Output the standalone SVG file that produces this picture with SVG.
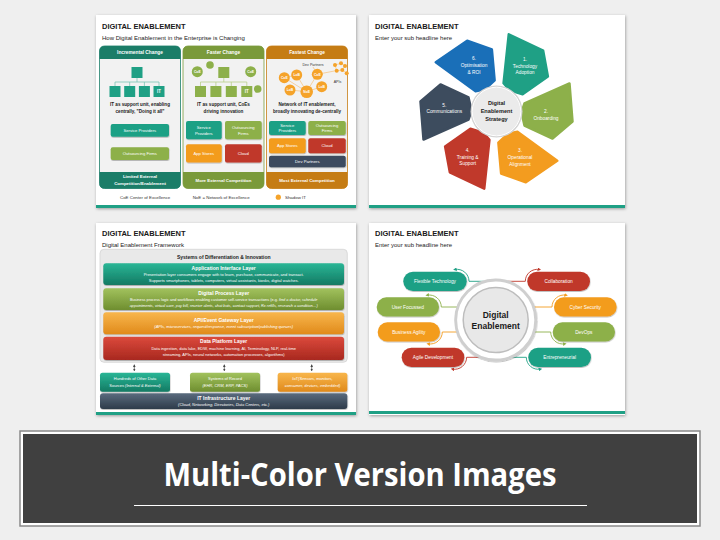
<svg xmlns="http://www.w3.org/2000/svg" width="720" height="540" viewBox="0 0 720 540">
<defs>
<style>
text{font-family:"Liberation Sans",Arial,sans-serif}
.t{font-size:7.5px;font-weight:bold;fill:#1a1a1a}
.st{font-size:6px;fill:#222}
.c{text-anchor:middle}
.w{fill:#fff}
.b{font-weight:bold}
.hd{font-size:4.8px;font-weight:bold;fill:#fff;text-anchor:middle}
.bt{font-size:4.2px;fill:#fff;text-anchor:middle}
.bd{font-size:4.6px;font-weight:bold;fill:#222;text-anchor:middle}
.lg{font-size:4.4px;fill:#333}
.nd{font-size:3.4px;fill:#fff;text-anchor:middle;font-weight:bold}
.pt{font-size:4.8px;fill:#fff;text-anchor:middle}
.lt{font-size:5px;font-weight:bold;fill:#fff;text-anchor:middle}
.ld{font-size:4px;fill:#fff;text-anchor:middle}
.pl{font-size:4.8px;fill:#fff;text-anchor:middle}
.card{fill:#fff;filter:url(#sh)}
.bar{fill:#1fa085}
.cn{fill:none;stroke-width:0.9}
</style>
<filter id="sh" x="-5%" y="-5%" width="110%" height="112%"><feDropShadow dx="0.6" dy="1" stdDeviation="1.4" flood-color="#000" flood-opacity="0.35"/></filter>
<filter id="sh2" x="-10%" y="-20%" width="120%" height="150%"><feDropShadow dx="0.4" dy="0.8" stdDeviation="0.6" flood-color="#000" flood-opacity="0.3"/></filter>
<linearGradient id="gT" x1="0" y1="0" x2="0" y2="1"><stop offset="0" stop-color="#2ab696"/><stop offset="1" stop-color="#137a63"/></linearGradient>
<linearGradient id="gG" x1="0" y1="0" x2="0" y2="1"><stop offset="0" stop-color="#a2c25e"/><stop offset="1" stop-color="#6e8e2f"/></linearGradient>
<linearGradient id="gO" x1="0" y1="0" x2="0" y2="1"><stop offset="0" stop-color="#f8b64c"/><stop offset="1" stop-color="#e08a1b"/></linearGradient>
<linearGradient id="gR" x1="0" y1="0" x2="0" y2="1"><stop offset="0" stop-color="#dc4a3c"/><stop offset="1" stop-color="#a8281f"/></linearGradient>
<linearGradient id="gS" x1="0" y1="0" x2="0" y2="1"><stop offset="0" stop-color="#5a6b7e"/><stop offset="1" stop-color="#2e3b4a"/></linearGradient>
<marker id="aT" viewBox="0 0 6 6" refX="3" refY="3" markerUnits="userSpaceOnUse" markerWidth="3.6" markerHeight="3.6" orient="auto"><path d="M0,0 L6,3 L0,6 Z" fill="#1fa085"/></marker>
<marker id="aG" viewBox="0 0 6 6" refX="3" refY="3" markerUnits="userSpaceOnUse" markerWidth="3.6" markerHeight="3.6" orient="auto"><path d="M0,0 L6,3 L0,6 Z" fill="#8db04a"/></marker>
<marker id="aO" viewBox="0 0 6 6" refX="3" refY="3" markerUnits="userSpaceOnUse" markerWidth="3.6" markerHeight="3.6" orient="auto"><path d="M0,0 L6,3 L0,6 Z" fill="#f39c1f"/></marker>
<marker id="aR" viewBox="0 0 6 6" refX="3" refY="3" markerUnits="userSpaceOnUse" markerWidth="3.6" markerHeight="3.6" orient="auto"><path d="M0,0 L6,3 L0,6 Z" fill="#c0392b"/></marker>
<marker id="aK" viewBox="0 0 6 6" refX="5" refY="3" markerUnits="userSpaceOnUse" markerWidth="2.6" markerHeight="2.6" orient="auto-start-reverse"><path d="M0,0 L6,3 L0,6 Z" fill="#444"/></marker>
<path id="petal" d="M25,1 L28,-8 L73,-28 L76,10 L56,27 L28,14 Z" stroke-linejoin="round" stroke-width="2.5"/>
</defs>

<rect width="720" height="540" fill="#efefef"/>

<!-- ============ SLIDE 1 ============ -->
<g id="slide1">
<rect class="card" x="96" y="15" width="260" height="193"/>
<rect class="bar" x="96" y="205" width="260" height="3"/>
<text class="t" x="102" y="28.5">DIGITAL ENABLEMENT</text>
<text class="st" x="102" y="40">How Digital Enablement in the Enterprise is Changing</text>

<g id="col-incremental">
<rect x="99.5" y="46" width="81" height="142.5" rx="5" fill="#f2f2f2" stroke="#1b7d68" stroke-width="0.8"/>
<path d="M99.5,59 V51 Q99.5,46 104.5,46 H175.5 Q180.5,46 180.5,51 V59 Z" fill="#1b7d68"/>
<path d="M99.5,172 H180.5 V183.5 Q180.5,188.5 175.5,188.5 H104.5 Q99.5,188.5 99.5,183.5 Z" fill="#1b7d68"/>
<text class="hd" x="140" y="54.3">Incremental Change</text>
<text class="hd" x="140" y="178.3" style="font-size:4.4px">Limited External</text>
<text class="hd" x="140" y="184.6" style="font-size:4.4px">Competition/Enablement</text>
<g fill="none" stroke="#7cc5b5" stroke-width="0.8">
<path d="M137,78 V82 M115,82 H159 M115,82 V86 M129.7,82 V86 M144.4,82 V86 M159,82 V86"/>
</g>
<rect x="131.5" y="67" width="11" height="11" fill="#1fa085"/>
<rect x="109.5" y="86" width="11" height="11" fill="#1fa085"/>
<rect x="124.2" y="86" width="11" height="11" fill="#1fa085"/>
<rect x="138.9" y="86" width="11" height="11" fill="#1fa085"/>
<rect x="153.5" y="86" width="11" height="11" fill="#1fa085"/>
<text class="nd" x="159" y="93" style="font-size:4.5px">IT</text>
<text class="bd" x="140" y="106">IT as support unit, enabling</text>
<text class="bd" x="140" y="112.5">centrally, "Doing it all"</text>
<rect x="110.7" y="124" width="58.3" height="12.7" rx="2" fill="#1fa085" filter="url(#sh2)"/>
<text class="bt" x="139.8" y="131.8">Service Providers</text>
<rect x="110.7" y="147.3" width="58.3" height="12.7" rx="2" fill="#8db04a" filter="url(#sh2)"/>
<text class="bt" x="139.8" y="155.1">Outsourcing Firms</text>
</g>

<g id="col-faster">
<rect x="183" y="46" width="81" height="142.5" rx="5" fill="#f2f2f2" stroke="#7a9a3a" stroke-width="0.8"/>
<path d="M183,59 V51 Q183,46 188,46 H259 Q264,46 264,51 V59 Z" fill="#7a9a3a"/>
<path d="M183,172 H264 V183.5 Q264,188.5 259,188.5 H188 Q183,188.5 183,183.5 Z" fill="#7a9a3a"/>
<text class="hd" x="223.5" y="54.3">Faster Change</text>
<text class="hd" x="223.5" y="182" style="font-size:4.4px">More External Competition</text>
<g fill="none" stroke="#b9cf8a" stroke-width="0.8">
<path d="M223.8,78 V82 M200.5,82 H246.8 M200.5,82 V86 M215.9,82 V86 M231.3,82 V86 M246.8,82 V86"/>
</g>
<rect x="218.3" y="67" width="11" height="11" fill="#8db04a"/>
<rect x="195" y="86" width="11" height="11" fill="#8db04a"/>
<rect x="210.4" y="86" width="11" height="11" fill="#8db04a"/>
<rect x="225.8" y="86" width="11" height="11" fill="#8db04a"/>
<rect x="241.3" y="86" width="11" height="11" fill="#8db04a"/>
<text class="nd" x="246.8" y="93" style="font-size:4.5px">IT</text>
<circle cx="197.3" cy="71.7" r="5.5" fill="#8db04a"/>
<text class="nd" x="197.3" y="73">CoE</text>
<circle cx="210" cy="65" r="3.8" fill="#8db04a"/>
<circle cx="250.7" cy="71.7" r="5.5" fill="#8db04a"/>
<text class="nd" x="250.7" y="73">CoE</text>
<circle cx="257.7" cy="89" r="3.8" fill="#8db04a"/>
<text class="bd" x="223.5" y="106">IT as support unit, CoEs</text>
<text class="bd" x="223.5" y="112.5">driving innovation</text>
<rect x="186" y="121" width="35.7" height="18.3" rx="2" fill="#1fa085" filter="url(#sh2)"/>
<text class="bt" x="203.8" y="129">Service</text>
<text class="bt" x="203.8" y="134.5">Providers</text>
<rect x="225" y="121" width="36.7" height="18.3" rx="2" fill="#8db04a" filter="url(#sh2)"/>
<text class="bt" x="243.3" y="129">Outsourcing</text>
<text class="bt" x="243.3" y="134.5">Firms</text>
<rect x="186" y="144.3" width="35.7" height="18.3" rx="2" fill="#f39c1f" filter="url(#sh2)"/>
<text class="bt" x="203.8" y="155">App Stores</text>
<rect x="225" y="144.3" width="36.7" height="18.3" rx="2" fill="#c0392b" filter="url(#sh2)"/>
<text class="bt" x="243.3" y="155">Cloud</text>
</g>

<g id="col-fastest">
<rect x="266.5" y="46" width="81" height="142.5" rx="5" fill="#f2f2f2" stroke="#c57c14" stroke-width="0.8"/>
<path d="M266.5,59 V51 Q266.5,46 271.5,46 H342.5 Q347.5,46 347.5,51 V59 Z" fill="#c57c14"/>
<path d="M266.5,172 H347.5 V183.5 Q347.5,188.5 342.5,188.5 H271.5 Q266.5,188.5 266.5,183.5 Z" fill="#c57c14"/>
<text class="hd" x="307" y="54.3">Fastest Change</text>
<text class="hd" x="307" y="182" style="font-size:4.4px">Most External Competition</text>
<g fill="none" stroke="#f7c27a" stroke-width="0.7">
<path d="M306.7,91.7 L284.3,77.7 M306.7,91.7 L296.7,75 M306.7,91.7 L290,90 M306.7,91.7 L317.3,74.3 M306.7,91.7 L321.7,86.7 M317.3,74.3 L337,70.5 M317.3,74.3 L313,67 M284.3,77.7 L296.7,75"/>
<path d="M335,65 L341,63.3 L345,66 L342.3,70 L336.7,70.7 Z M342.3,70 L346.7,73.3"/>
</g>
<g fill="#f5a32a">
<circle cx="284.3" cy="77.7" r="5.5"/><circle cx="296.7" cy="75" r="5.5"/><circle cx="290" cy="90" r="5.5"/>
<circle cx="306.7" cy="91.7" r="6.3"/><circle cx="317.3" cy="74.3" r="5.5"/><circle cx="321.7" cy="86.7" r="5.5"/>
<circle cx="335" cy="65" r="2"/><circle cx="341" cy="63.3" r="2"/><circle cx="345" cy="66" r="2"/>
<circle cx="336.7" cy="70.7" r="2"/><circle cx="342.3" cy="70" r="2"/><circle cx="346.7" cy="73.3" r="2"/>
</g>
<text class="nd" x="284.3" y="79">CoE</text>
<text class="nd" x="296.7" y="76.3">LoB</text>
<text class="nd" x="290" y="91.3">LoB</text>
<text class="nd" x="306.7" y="93">NoE</text>
<text class="nd" x="317.3" y="75.6">CoE</text>
<text class="nd" x="321.7" y="88">LoB</text>
<text x="313" y="65.5" style="font-size:3.6px;fill:#333" class="c">Dev Partners</text>
<text x="337.5" y="83" style="font-size:3.6px;fill:#333" class="c">APIs</text>
<text class="bd" x="307" y="106">Network of IT enablement,</text>
<text class="bd" x="307" y="112.5">broadly innovating de-centrally</text>
<rect x="269" y="121" width="36.7" height="14" rx="2" fill="#1fa085" filter="url(#sh2)"/>
<text class="bt" x="287.3" y="127">Service</text>
<text class="bt" x="287.3" y="132.3">Providers</text>
<rect x="308.3" y="121" width="37.4" height="14" rx="2" fill="#8db04a" filter="url(#sh2)"/>
<text class="bt" x="327" y="127">Outsourcing</text>
<text class="bt" x="327" y="132.3">Firms</text>
<rect x="269" y="138.3" width="36.7" height="15" rx="2" fill="#f39c1f" filter="url(#sh2)"/>
<text class="bt" x="287.3" y="147.3">App Stores</text>
<rect x="308.3" y="138.3" width="37.4" height="15" rx="2" fill="#c0392b" filter="url(#sh2)"/>
<text class="bt" x="327" y="147.3">Cloud</text>
<rect x="269" y="155.7" width="76.7" height="11.6" rx="2" fill="#3d4c5e" filter="url(#sh2)"/>
<text class="bt" x="307.3" y="163">Dev Partners</text>
</g>

<g id="legend1">
<text class="lg" x="120" y="198.8">CoE Center of Excellence</text>
<text class="lg" x="192.7" y="198.8">NoE = Network of Excellence</text>
<circle cx="278.3" cy="197.2" r="2.6" fill="#f5a32a"/>
<text class="lg" x="285" y="198.8">Shadow IT</text>
</g>
</g>

<!-- ============ SLIDE 2 ============ -->
<g id="slide2">
<rect class="card" x="369" y="15" width="256" height="193"/>
<rect class="bar" x="369" y="205" width="256" height="3"/>
<text class="t" x="375" y="28.5">DIGITAL ENABLEMENT</text>
<text class="st" x="375" y="40">Enter your sub headline here</text>
<g id="petal1"><use href="#petal" transform="translate(496.5,111.5) rotate(-60)" fill="#1fa085" stroke="#1fa085"/>
<text class="pt" x="525" y="61">1.</text><text class="pt" x="525" y="67.7">Technology</text><text class="pt" x="525" y="74.4">Adoption</text></g>
<g id="petal2"><use href="#petal" transform="translate(496.5,111.5)" fill="#8db04a" stroke="#8db04a"/>
<text class="pt" x="546" y="113">2.</text><text class="pt" x="546" y="119.7">Onboarding</text></g>
<g id="petal3"><use href="#petal" transform="translate(496.5,111.5) rotate(60)" fill="#f39c1f" stroke="#f39c1f"/>
<text class="pt" x="520" y="152.3">3.</text><text class="pt" x="520" y="159">Operational</text><text class="pt" x="520" y="165.7">Alignment</text></g>
<g id="petal4"><use href="#petal" transform="translate(496.5,111.5) rotate(120)" fill="#c0392b" stroke="#c0392b"/>
<text class="pt" x="467.7" y="151.8">4.</text><text class="pt" x="467.7" y="158.5">Training &amp;</text><text class="pt" x="467.7" y="165.2">Support</text></g>
<g id="petal5"><use href="#petal" transform="translate(496.5,111.5) rotate(180)" fill="#3d4c5e" stroke="#3d4c5e"/>
<text class="pt" x="444.3" y="106.5">5.</text><text class="pt" x="444.3" y="113.2">Communications</text></g>
<g id="petal6"><use href="#petal" transform="translate(496.5,111.5) rotate(240)" fill="#1a6fb8" stroke="#1a6fb8"/>
<text class="pt" x="474" y="59.5">6.</text><text class="pt" x="474" y="66.8">Optimisation</text><text class="pt" x="474" y="73.5">&amp; ROI</text></g>
<g id="hub2">
<circle cx="496.5" cy="111.5" r="26" fill="#d4d4d4"/>
<circle cx="496.5" cy="111.5" r="24.3" fill="#ebebeb" stroke="#fff" stroke-width="1"/>
<text x="496.5" y="104.5" class="c" style="font-size:5.6px;font-weight:bold;fill:#222">Digital</text>
<text x="496.5" y="112.5" class="c" style="font-size:5.6px;font-weight:bold;fill:#222">Enablement</text>
<text x="496.5" y="120.5" class="c" style="font-size:5.6px;font-weight:bold;fill:#222">Strategy</text>
</g>
</g>

<!-- ============ SLIDE 3 ============ -->
<g id="slide3">
<rect class="card" x="96" y="223" width="260" height="192"/>
<rect class="bar" x="96" y="412" width="260" height="3"/>
<text class="t" x="102" y="235.5">DIGITAL ENABLEMENT</text>
<text class="st" x="102" y="246.7">Digital Enablement Framework</text>
<rect x="100" y="249.3" width="247.3" height="113" rx="4" fill="#e9e9e9" stroke="#d4d4d4" stroke-width="0.8"/>
<text x="223.7" y="258.6" class="c" style="font-size:5px;font-weight:bold;fill:#222">Systems of Differentiation &amp; Innovation</text>
<g id="layer-app">
<rect x="103.3" y="263.3" width="240.7" height="21.7" rx="3" fill="url(#gT)" filter="url(#sh2)"/>
<text class="lt" x="223.7" y="269.6">Application Interface Layer</text>
<text class="ld" x="223.7" y="275.8">Presentation layer consumers engage with to learn, purchase, communicate, and transact.</text>
<text class="ld" x="223.7" y="281.8">Supports smartphones, tablets, computers, virtual assistants, kiosks, digital watches.</text>
</g>
<g id="layer-process">
<rect x="103.3" y="288.3" width="240.7" height="21.7" rx="3" fill="url(#gG)" filter="url(#sh2)"/>
<text class="lt" x="223.7" y="294.6">Digital Process Layer</text>
<text class="ld" x="223.7" y="300.8" style="font-size:3.85px">Business process logic and workflows enabling customer self-service transactions (e.g. <tspan font-style="italic">find a doctor, schedule</tspan></text>
<text class="ld" x="223.7" y="306.8" style="font-size:3.85px;font-style:italic">appointments, virtual care, pay bill, receive alerts, chat bots, contact support, Rx refills, research a condition…)</text>
</g>
<g id="layer-api">
<rect x="103.3" y="312.3" width="240.7" height="22" rx="3" fill="url(#gO)" filter="url(#sh2)"/>
<text class="lt" x="223.7" y="321.7">API/Event Gateway Layer</text>
<text class="ld" x="223.7" y="328" style="font-style:italic">(APIs, microservices, request/response, event subscription/publishing queues)</text>
</g>
<g id="layer-data">
<rect x="103.3" y="336.7" width="240.7" height="23.3" rx="3" fill="url(#gR)" filter="url(#sh2)"/>
<text class="lt" x="223.7" y="343">Data Platform Layer</text>
<text class="ld" x="223.7" y="349.5">Data ingestion, data lake, EDW, machine learning, AI, Terminology, NLP, real-time</text>
<text class="ld" x="223.7" y="355.8">streaming, APIs, neural networks, automation processes, algorithms)</text>
</g>
<g id="connectors3" stroke="#444" stroke-width="0.7" fill="none">
<line x1="134.3" y1="364.8" x2="134.3" y2="370.8" marker-start="url(#aK)" marker-end="url(#aK)"/>
<line x1="224.3" y1="364.8" x2="224.3" y2="370.8" marker-start="url(#aK)" marker-end="url(#aK)"/>
<line x1="311.7" y1="364.8" x2="311.7" y2="370.8" marker-start="url(#aK)" marker-end="url(#aK)"/>
</g>
<g id="src-other">
<rect x="100" y="372.7" width="70" height="19" rx="2.5" fill="url(#gT)" filter="url(#sh2)"/>
<text class="ld" x="135" y="380.3" style="font-size:4px">Hundreds of Other Data</text>
<text class="ld" x="135" y="386.5" style="font-size:4px">Sources <tspan font-style="italic">(Internal &amp; External)</tspan></text>
</g>
<g id="src-record">
<rect x="190" y="372.7" width="70" height="19" rx="2.5" fill="url(#gG)" filter="url(#sh2)"/>
<text class="ld" x="225" y="380.3" style="font-size:4px">Systems of Record</text>
<text class="ld" x="225" y="386.5" style="font-size:4px;font-style:italic">(EHR, CRM, ERP, PACS)</text>
</g>
<g id="src-iot">
<rect x="277.7" y="372.7" width="69.6" height="19" rx="2.5" fill="url(#gO)" filter="url(#sh2)"/>
<text class="ld" x="312.5" y="380.3" style="font-size:4px;font-style:italic">IoT(Sensors, monitors,</text>
<text class="ld" x="312.5" y="386.5" style="font-size:4px;font-style:italic">consumer, devices, embedded)</text>
</g>
<g id="layer-infra">
<rect x="100" y="393.3" width="247.3" height="15.7" rx="3" fill="url(#gS)" filter="url(#sh2)"/>
<text class="lt" x="223.7" y="399.6">IT Infrastructure Layer</text>
<text class="ld" x="223.7" y="405.6" style="font-style:italic">(Cloud, Networking, Directories, Data Centers, etc.)</text>
</g>
</g>

<!-- ============ SLIDE 4 ============ -->
<g id="slide4">
<rect class="card" x="369" y="223" width="256" height="192"/>
<rect class="bar" x="369" y="411" width="256" height="3"/>
<text class="t" x="375" y="235.5">DIGITAL ENABLEMENT</text>
<text class="st" x="375" y="246.7">Enter your sub headline here</text>
<g id="connectors4" class="cn">
<path d="M483.8,281.3 H469 A12,12 0 0 0 454.9,269.5" stroke="#1fa085" marker-end="url(#aT)" fill="none"/>
<path d="M457.3,307 H441.3 A12,12 0 0 0 427.2,295.2" stroke="#8db04a" marker-end="url(#aG)" fill="none"/>
<path d="M457,332 H442.3 A12,12 0 0 1 428.2,343.8" stroke="#f39c1f" marker-end="url(#aO)" fill="none"/>
<path d="M479.9,357.3 H466.6 A12,12 0 0 1 452.5,369.1" stroke="#c0392b" marker-end="url(#aR)" fill="none"/>
<path d="M507.6,281.3 H525.3 A12,12 0 0 1 539.4,269.5" stroke="#c0392b" marker-end="url(#aR)" fill="none"/>
<path d="M534.1,307 H552 A12,12 0 0 1 566.1,295.2" stroke="#f39c1f" marker-end="url(#aO)" fill="none"/>
<path d="M534.4,332 H550.7 A12,12 0 0 0 564.8,343.8" stroke="#8db04a" marker-end="url(#aG)" fill="none"/>
<path d="M511.5,357.3 H526.3 A12,12 0 0 0 540.4,369.1" stroke="#1fa085" marker-end="url(#aT)" fill="none"/>
</g>
<g id="hub4">
<circle cx="495.7" cy="320" r="40" fill="#fff" stroke="#cfcfcf" stroke-width="2.8" filter="url(#sh2)"/>
<circle cx="495.7" cy="320" r="32.5" fill="#e8e8e8" stroke="#bdbdbd" stroke-width="1.5"/>
<text x="495.7" y="317.5" class="c" style="font-size:8.5px;font-weight:bold;fill:#1a1a1a">Digital</text>
<text x="495.7" y="329" class="c" style="font-size:8.5px;font-weight:bold;fill:#1a1a1a">Enablement</text>
</g>
<g id="pill-flex"><rect x="403.3" y="271.7" width="63.4" height="19.3" rx="9.65" fill="#1fa085" filter="url(#sh2)"/><text class="pl" x="435" y="283">Flexible Technology</text></g>
<g id="pill-user"><rect x="376.7" y="297.3" width="62.3" height="19.3" rx="9.65" fill="#8db04a" filter="url(#sh2)"/><text class="pl" x="407.8" y="308.7">User Focussed</text></g>
<g id="pill-agility"><rect x="377.7" y="322.3" width="62.3" height="19.3" rx="9.65" fill="#f39c1f" filter="url(#sh2)"/><text class="pl" x="408.8" y="333.7">Business Agility</text></g>
<g id="pill-agile"><rect x="401.7" y="347.7" width="62.6" height="19.3" rx="9.65" fill="#c0392b" filter="url(#sh2)"/><text class="pl" x="433" y="359">Agile Development</text></g>
<g id="pill-collab"><rect x="527.3" y="271.7" width="62.7" height="19.3" rx="9.65" fill="#c0392b" filter="url(#sh2)"/><text class="pl" x="558.6" y="283">Collaboration</text></g>
<g id="pill-cyber"><rect x="554" y="297.3" width="62.7" height="19.3" rx="9.65" fill="#f39c1f" filter="url(#sh2)"/><text class="pl" x="585.3" y="308.7">Cyber Security</text></g>
<g id="pill-devops"><rect x="552.7" y="322.3" width="62.3" height="19.3" rx="9.65" fill="#8db04a" filter="url(#sh2)"/><text class="pl" x="583.8" y="333.7">DevOps</text></g>
<g id="pill-entre"><rect x="528.3" y="347.7" width="62.7" height="19.3" rx="9.65" fill="#1fa085" filter="url(#sh2)"/><text class="pl" x="559.6" y="359">Entrepreneurial</text></g>
</g>

<!-- ============ BANNER ============ -->
<g id="banner">
<rect x="20" y="431" width="680" height="95" fill="#fff" stroke="#8a8a8a" stroke-width="1.5"/>
<rect x="23" y="434" width="674" height="89" fill="#404040"/>
<text x="360" y="486" text-anchor="middle" textLength="393" lengthAdjust="spacingAndGlyphs" style="font-family:'Open Sans','Liberation Sans',sans-serif;font-size:33px;font-weight:bold;fill:#fff">Multi-Color Version Images</text>
<line x1="134" y1="505.5" x2="587" y2="505.5" stroke="#fff" stroke-width="1.2"/>
</g>
</svg>
